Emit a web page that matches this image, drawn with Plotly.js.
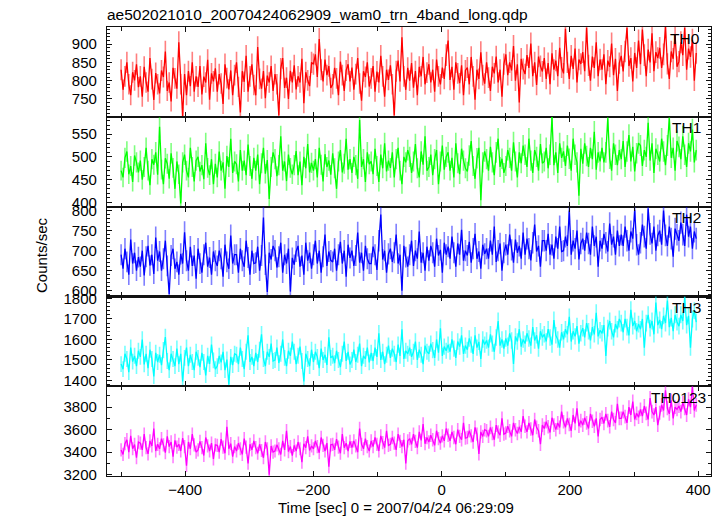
<!DOCTYPE html>
<html>
<head>
<meta charset="utf-8">
<script src="https://cdn.plot.ly/plotly-3.0.1.min.js"></script>
<style>html,body{margin:0;padding:0;background:#fff;}#chart{width:724px;height:516px;}</style>
</head>
<body>
<div id="chart"></div>
<script>
// ---- data (bins of 3 s starting at -500 s) ----
const T_START = -500;
const T_STEP = 3;
const BANDS = ["TH0", "TH1", "TH2", "TH3", "TH0123"];
const COLORS = ["#ff0000", "#00ff00", "#0000ff", "#00ffff", "#ff00ff"];
const ERR_COLORS = ["rgba(255,0,0,0.5)", "rgba(0,255,0,0.5)", "rgba(0,0,255,0.5)", "rgba(0,255,255,0.55)", "rgba(255,0,255,0.5)"];

const TH0 = [
830,775,812,850,790,760,823,801,845,782,
812,756,838,795,770,862,804,747,821,790,
765,828,810,880,772,795,743,835,806,778,
905,790,702,818,760,826,785,850,770,812,
783,840,762,811,795,857,748,820,798,834,
770,818,792,736,845,807,776,828,760,815,
850,783,713,826,797,868,770,812,845,788,
760,892,805,778,826,752,814,795,840,772,
818,790,705,833,862,780,808,750,827,795,
842,776,812,795,860,738,823,801,785,850,
845,872,810,914,830,798,858,815,840,780,
790,835,806,760,852,815,772,828,845,798,
836,775,818,862,792,745,826,810,850,784,
806,840,770,825,795,868,812,756,830,802,
842,790,705,826,855,798,919,812,775,835,
800,848,781,826,760,838,812,865,790,822,
845,795,830,770,858,812,790,836,805,870,
910,802,838,775,850,820,793,842,760,828,
836,790,865,812,748,830,805,878,815,792,
850,808,772,838,820,866,795,830,756,845,
872,815,850,828,895,800,845,740,860,832,
818,870,835,902,812,850,788,866,840,825,
862,805,848,790,875,830,855,812,890,836,
820,942,850,805,868,832,888,795,858,846,
878,826,945,842,800,866,835,905,812,858,
830,872,790,855,838,902,815,860,772,848,
868,825,880,945,840,862,798,876,835,910,
845,940,870,812,885,850,930,826,878,862,
890,835,872,948,846,805,880,860,925,838,
852,905,870,945,830,888,865,912,800,876];

const TH1 = [
470,455,498,512,462,480,445,503,488,466,
492,450,478,520,470,438,495,483,510,461,
566,472,440,497,485,452,508,476,430,490,
462,398,488,505,470,455,520,478,446,492,
500,468,482,451,530,476,460,495,440,485,
455,512,470,488,430,502,478,540,465,490,
484,446,515,470,492,460,527,480,452,498,
470,505,440,486,520,463,493,408,478,510,
495,458,482,545,470,490,447,505,476,462,
482,513,460,490,438,500,475,528,466,487,
470,495,455,520,483,446,506,478,492,461,
508,475,430,490,515,466,485,540,472,495,
465,500,482,452,581,478,495,445,510,484,
490,462,518,480,445,505,475,530,468,492,
476,510,455,495,520,470,440,500,488,515,
500,465,490,528,475,455,512,483,545,470,
478,505,460,495,515,440,490,525,472,500,
510,470,498,455,530,486,462,518,492,475,
468,503,535,480,452,497,520,405,488,512,
495,470,522,488,460,510,540,478,496,465,
480,515,498,470,532,490,455,510,486,525,
505,478,540,492,465,515,500,470,528,486,
490,520,475,505,588,482,510,465,530,498,
512,480,525,496,470,540,505,488,415,518,
485,530,502,478,520,495,555,472,510,490,
520,488,510,585,496,470,530,505,482,515,
495,535,478,512,548,490,522,468,508,530,
525,480,515,500,575,492,530,465,518,505,
490,540,512,482,525,585,498,520,470,535,
522,495,545,505,478,530,512,560,488,515];

const TH2 = [
690,655,705,672,640,728,668,695,650,684,
660,700,638,685,712,663,690,642,733,675,
698,650,680,725,662,592,688,705,655,672,
640,692,668,746,675,650,710,662,688,630,
705,668,645,690,720,660,683,640,698,675,
662,700,680,635,715,672,655,738,668,690,
690,645,705,675,660,725,683,640,700,668,
670,710,650,688,783,665,597,695,678,712,
700,658,685,720,645,690,668,705,598,682,
665,698,712,660,688,640,720,675,695,655,
690,725,668,700,645,685,740,662,698,676,
672,705,650,690,722,668,700,635,715,682,
700,662,688,745,670,695,650,712,680,668,
668,710,690,652,725,790,678,700,645,692,
705,672,695,740,668,690,600,712,684,660,
690,725,662,700,680,748,670,695,650,710,
675,712,695,660,730,688,702,645,720,690,
710,680,735,695,660,718,690,752,675,700,
688,722,670,705,742,680,698,655,715,692,
705,680,725,690,760,672,700,718,650,695,
715,690,740,702,670,728,695,712,680,745,
690,730,705,676,720,765,698,712,660,725,
725,700,742,690,715,680,735,705,760,698,
700,735,712,800,690,725,705,750,678,718,
730,700,745,718,690,760,712,735,660,725,
705,742,720,698,768,715,735,690,750,712,
740,712,760,725,700,748,730,802,715,690,
720,765,735,705,805,742,718,760,700,738,
750,715,800,738,712,760,730,685,755,740,
725,770,740,712,790,735,760,705,748,730];

const TH3 = [
1480,1455,1530,1505,1440,1560,1492,1520,1470,1545,
1515,1600,1478,1530,1460,1550,1505,1420,1535,1490,
1525,1475,1548,1612,1495,1450,1530,1505,1470,1555,
1480,1530,1395,1510,1560,1470,1525,1490,1450,1540,
1510,1465,1535,1490,1425,1520,1480,1575,1498,1455,
1470,1520,1488,1540,1450,1502,1380,1515,1475,1530,
1525,1480,1560,1505,1455,1540,1620,1490,1515,1470,
1535,1490,1550,1625,1505,1470,1540,1515,1580,1495,
1500,1560,1485,1530,1600,1510,1470,1545,1520,1590,
1540,1480,1520,1565,1495,1395,1530,1505,1470,1550,
1490,1540,1515,1460,1555,1500,1525,1475,1610,1510,
1520,1485,1545,1500,1465,1530,1590,1495,1540,1478,
1500,1550,1490,1525,1580,1470,1520,1505,1560,1488,
1535,1495,1560,1515,1630,1500,1540,1480,1525,1570,
1510,1555,1530,1490,1575,1520,1650,1505,1545,1530,
1560,1515,1540,1590,1500,1550,1525,1480,1570,1540,
1530,1580,1548,1510,1600,1535,1655,1520,1565,1545,
1575,1540,1600,1555,1510,1590,1565,1620,1530,1570,
1550,1605,1575,1530,1620,1560,1588,1505,1600,1575,
1595,1560,1625,1580,1540,1610,1690,1570,1600,1555,
1605,1570,1630,1595,1480,1615,1590,1650,1565,1600,
1580,1630,1605,1570,1660,1595,1620,1555,1640,1610,
1625,1590,1650,1610,1575,1695,1620,1600,1560,1635,
1600,1650,1625,1710,1590,1640,1615,1665,1580,1630,
1655,1610,1680,1640,1595,1660,1625,1730,1615,1645,
1630,1670,1520,1655,1690,1640,1610,1675,1650,1700,
1680,1635,1700,1660,1620,1745,1665,1690,1640,1675,
1650,1700,1560,1680,1720,1655,1690,1625,1780,1670,
1695,1650,1715,1680,1790,1660,1705,1640,1720,1685,
1665,1720,1690,1805,1670,1715,1560,1700,1740,1685];

const TH0123 = [
3420,3380,3475,3510,3400,3545,3430,3468,3350,3490,
3480,3420,3560,3440,3385,3500,3455,3610,3410,3470,
3430,3520,3465,3395,3540,3450,3490,3360,3505,3445,
3470,3410,3525,3450,3280,3490,3430,3560,3465,3400,
3420,3495,3440,3370,3530,3455,3410,3480,3340,3465,
3460,3400,3515,3445,3390,3625,3430,3475,3360,3450,
3410,3480,3430,3380,3520,3445,3300,3470,3420,3500,
3440,3390,3470,3415,3350,3490,3430,3200,3455,3400,
3410,3465,3430,3380,3500,3420,3590,3405,3450,3370,
3460,3410,3490,3430,3310,3475,3440,3540,3415,3455,
3430,3500,3450,3395,3530,3460,3410,3480,3270,3465,
3470,3420,3515,3445,3390,3560,3440,3480,3410,3495,
3440,3500,3455,3400,3610,3470,3430,3520,3450,3410,
3500,3450,3530,3470,3410,3545,3485,3440,3590,3460,
3470,3530,3480,3420,3560,3495,3450,3510,3300,3500,
3520,3470,3560,3495,3440,3580,3505,3650,3475,3530,
3490,3550,3510,3460,3590,3520,3480,3545,3500,3610,
3550,3500,3580,3530,3470,3600,3540,3510,3660,3525,
3530,3590,3545,3490,3620,3560,3385,3580,3540,3600,
3590,3540,3620,3565,3510,3640,3580,3550,3700,3560,
3570,3630,3590,3540,3660,3600,3565,3625,3580,3720,
3630,3580,3660,3605,3550,3690,3620,3590,3470,3640,
3610,3670,3625,3575,3705,3640,3600,3660,3620,3760,
3670,3620,3700,3645,3590,3730,3655,3790,3630,3680,
3640,3705,3660,3610,3740,3675,3630,3700,3540,3690,
3710,3655,3740,3680,3625,3760,3690,3660,3830,3700,
3700,3760,3715,3660,3800,3730,3850,3690,3745,3710,
3780,3720,3810,3745,3690,3880,3760,3730,3800,3640,
3750,3820,3770,3950,3790,3740,3860,3700,3800,3780,
3810,3760,3840,3790,3730,3870,3800,3980,3770,3820];

const SERIES = [TH0, TH1, TH2, TH3, TH0123];

// axis settings per panel (top to bottom)
const Y_RANGES = [[701, 947], [391, 588], [586, 810], [1372, 1810], [3188, 3986]];
const Y_DTICK = [50, 50, 50, 100, 200];
const Y_MINOR = [10, 10, 10, 20, 100];
const X_RANGE = [-522, 420];

const TITLE = "ae502021010_20070424062909_wam0_trn_4band_long.qdp";
const X_TITLE = "Time [sec] 0 = 2007/04/24 06:29:09";
const Y_TITLE = "Counts/sec";

// ---- build ----
const FONT = "Liberation Sans, Arial, Helvetica, sans-serif";
const W = 724, H = 516;
const M = {l: 107, r: 13, t: 27, b: 40};
const plotH = H - M.t - M.b;
const plotW = W - M.l - M.r;
const N = BANDS.length;

const traces = [];
const layout = {
  width: W, height: H,
  margin: M,
  paper_bgcolor: "#fff", plot_bgcolor: "#fff",
  showlegend: false,
  font: {family: FONT, size: 15, color: "#000"},
  title: {text: TITLE, font: {family: FONT, size: 15.5, color: "#000"},
          xref: "container", x: 107 / W, xanchor: "left",
          yref: "container", y: 1 - 15 / H, yanchor: "middle"},
  annotations: []
};

const labelRight = [702, 703, 703, 703, 708];

for (let i = 0; i < N; i++) {
  const sfx = i === 0 ? "" : String(i + 1);
  traces.push({
    type: "scatter", mode: "lines",
    x0: T_START, dx: T_STEP, y: SERIES[i],
    xaxis: "x" + sfx, yaxis: "y" + sfx,
    line: {color: COLORS[i], width: 1.3},
    error_y: {type: "sqrt", visible: true, color: ERR_COLORS[i], thickness: 1.6, width: 0},
    hoverinfo: "skip"
  });
  const top = 1 - i / N, bot = 1 - (i + 1) / N;
  const isBottom = i === N - 1;
  layout["xaxis" + sfx] = {
    range: X_RANGE, domain: [0, 1], anchor: "y" + sfx,
    showline: true, mirror: "ticks", linecolor: "#111", linewidth: 1.1,
    ticks: "inside", ticklen: 5, tickwidth: 1, tickcolor: "#111",
    dtick: 200, tick0: 0,
    minor: {ticks: "inside", dtick: 100, tick0: 0, ticklen: 4, tickcolor: "#111", showgrid: false},
    showticklabels: isBottom, showgrid: false, zeroline: false,
    tickfont: {family: FONT, size: 15, color: "#000"}
  };
  layout["yaxis" + sfx] = {
    range: Y_RANGES[i], domain: [bot, top], anchor: "x" + sfx,
    showline: true, mirror: "ticks", linecolor: "#111", linewidth: 1.1,
    ticks: "inside", ticklen: 5, tickwidth: 1, tickcolor: "#111",
    dtick: Y_DTICK[i], tick0: 0,
    minor: {ticks: "inside", dtick: Y_MINOR[i], tick0: 0, ticklen: 3, tickcolor: "#111", showgrid: false},
    showgrid: false, zeroline: false,
    tickfont: {family: FONT, size: 15, color: "#000"},
    ticklabelstandoff: 6
  };
  layout.annotations.push({
    text: BANDS[i], showarrow: false,
    xref: "paper", x: (labelRight[i] - M.l) / plotW, xanchor: "right",
    yref: "paper", y: top - 11 / plotH, yanchor: "middle",
    font: {family: FONT, size: 15.5, color: "#000"}
  });
}

layout.annotations.push({
  text: X_TITLE, showarrow: false,
  xref: "paper", x: (396 - M.l) / plotW, xanchor: "center",
  yref: "paper", y: -(507 - (H - M.b)) / plotH, yanchor: "middle",
  font: {family: FONT, size: 15, color: "#000"}
});
layout.annotations.push({
  text: Y_TITLE, showarrow: false, textangle: -90,
  xref: "paper", x: (41 - M.l) / plotW, xanchor: "center",
  yref: "paper", y: (H - M.b - 255) / plotH, yanchor: "middle",
  font: {family: FONT, size: 15, color: "#000"}
});

Plotly.newPlot("chart", traces, layout, {staticPlot: true, displayModeBar: false});
</script>
</body>
</html>
